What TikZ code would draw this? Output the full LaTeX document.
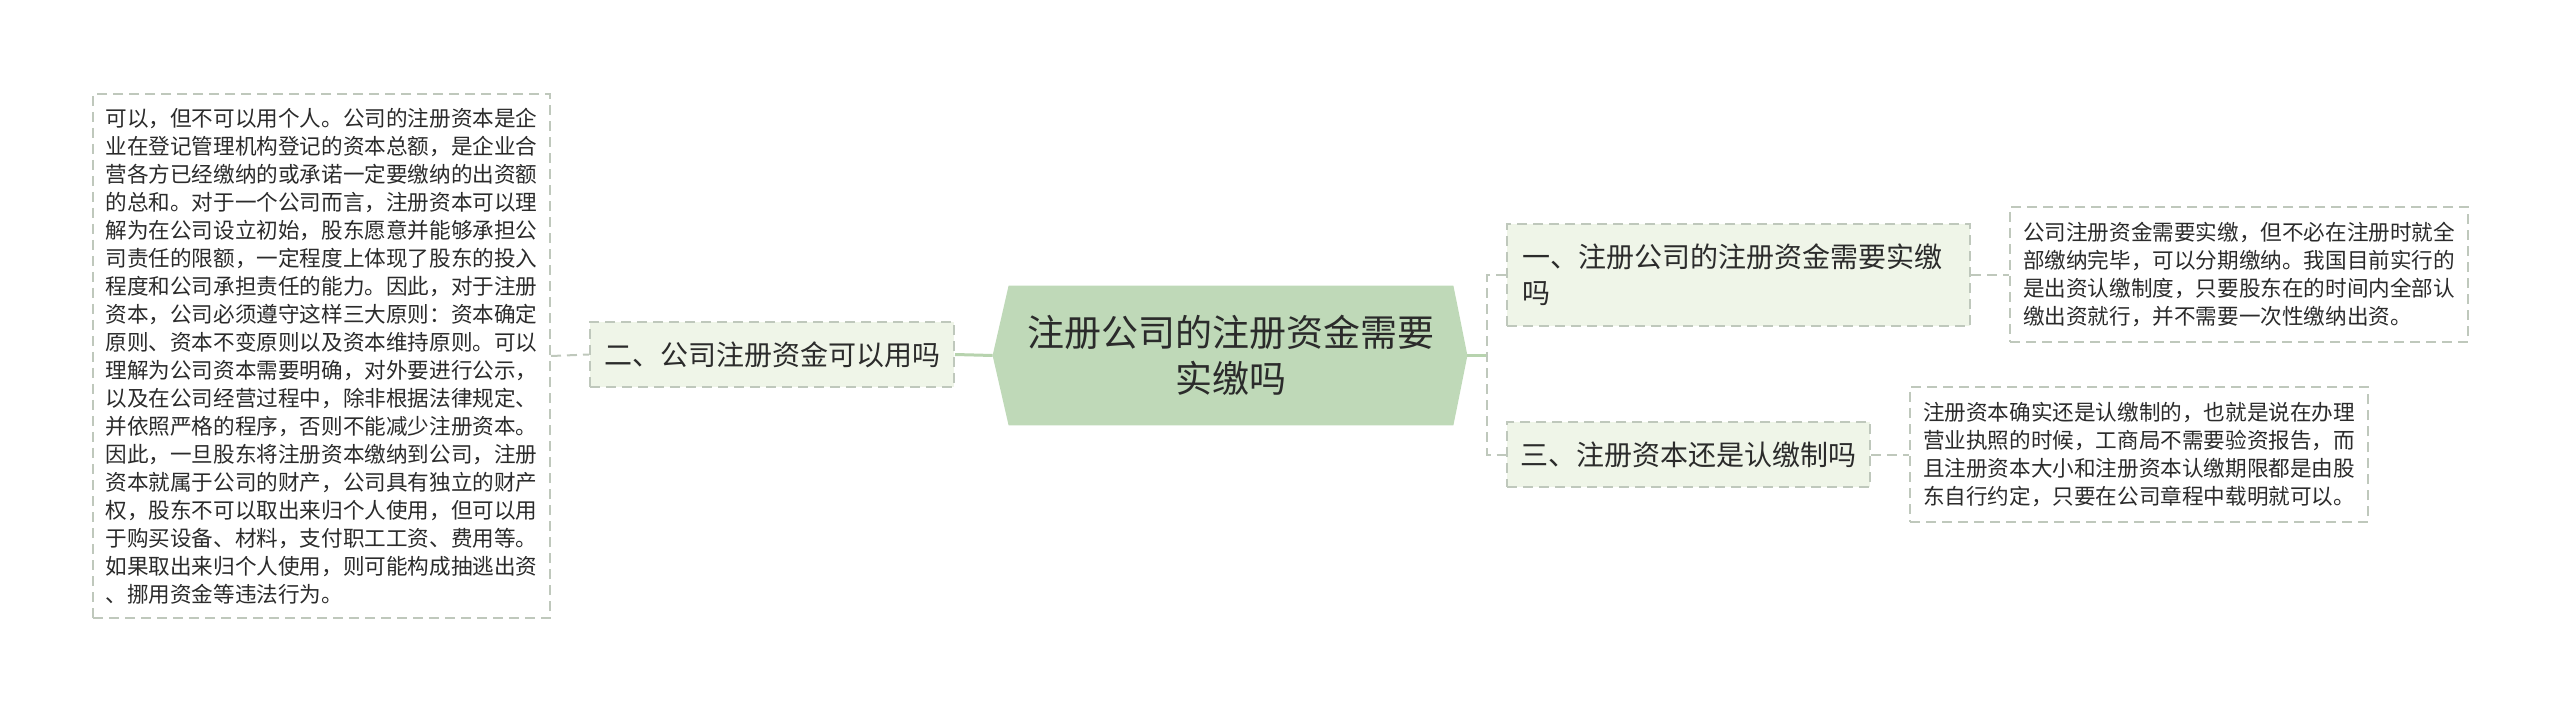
\documentclass[tikz,border=0pt]{standalone}
\usepackage{fontspec}
\setmainfont{Noto Sans CJK SC}
\usetikzlibrary{calc}
\definecolor{hexfill}{HTML}{BFD9B8}
\definecolor{subfill}{HTML}{EFF5E8}
\definecolor{dashc}{HTML}{BFC8BC}
\definecolor{linec}{HTML}{B7D3AE}
\definecolor{txt}{HTML}{2B2B2B}
\begin{document}
\begin{tikzpicture}[x=0.5pt,y=-0.5pt,
  dbox/.style={draw=dashc, line width=1pt, dash pattern=on 5pt off 3pt, rectangle, inner sep=0pt, text=txt},
  leaf/.style={dbox, fill=white, align=left, font=\fontsize{10.8}{14}\selectfont},
  sub/.style={dbox, fill=subfill, align=left, font=\fontsize{14}{18}\selectfont},
  conn/.style={draw=linec, line width=1.5pt},
  dconn/.style={draw=dashc, line width=1pt, dash pattern=on 5pt off 3pt}
]
\useasboundingbox (0,0) rectangle (2560,711);

% central topic
\node[minimum width=222pt, minimum height=69.5pt, inner sep=0pt] (c) at (1231,355.5) {};
\coordinate (cL) at ($(c.west)+(-16,0)$);
\coordinate (cR) at ($(c.east)+(14,0)$);
\fill[hexfill] (c.north west) -- (c.north east) -- (cR) -- (c.south east) -- (c.south west) -- (cL) -- cycle;
\node[text=txt, align=center, font=\fontsize{18.5}{23}\selectfont] (ct) at (c.center) {注册公司的注册资金需要\\实缴吗};

% left branch
\node[sub, minimum width=182pt, minimum height=32.5pt] (b2) at (772,354.5) {二、公司注册资金可以用吗};
\node[leaf, minimum width=228.5pt, minimum height=262pt] (t2) at (321.5,356) {可以，但不可以用个人。公司的注册资本是企\\业在登记管理机构登记的资本总额，是企业合\\营各方已经缴纳的或承诺一定要缴纳的出资额\\的总和。对于一个公司而言，注册资本可以理\\解为在公司设立初始，股东愿意并能够承担公\\司责任的限额，一定程度上体现了股东的投入\\程度和公司承担责任的能力。因此，对于注册\\资本，公司必须遵守这样三大原则：资本确定\\原则、资本不变原则以及资本维持原则。可以\\理解为公司资本需要明确，对外要进行公示，\\以及在公司经营过程中，除非根据法律规定、\\并依照严格的程序，否则不能减少注册资本。\\因此，一旦股东将注册资本缴纳到公司，注册\\资本就属于公司的财产，公司具有独立的财产\\权，股东不可以取出来归个人使用，但可以用\\于购买设备、材料，支付职工工资、费用等。\\如果取出来归个人使用，则可能构成抽逃出资\\、挪用资金等违法行为。};

% right branches
\node[sub, minimum width=231.5pt, minimum height=51pt] (b1) at (1738.5,275) {\parbox{216pt}{\raggedright 一、注册公司的注册资金需要实缴\\吗}};
\node[sub, minimum width=181.5pt, minimum height=32.5pt] (b3) at (1688.5,454.5) {三、注册资本还是认缴制吗};

\node[leaf, minimum width=229pt, minimum height=67.5pt] (t1) at (2239,274.5) {公司注册资金需要实缴，但不必在注册时就全\\部缴纳完毕，可以分期缴纳。我国目前实行的\\是出资认缴制度，只要股东在的时间内全部认\\缴出资就行，并不需要一次性缴纳出资。};
\node[leaf, minimum width=229pt, minimum height=67.5pt] (t3) at (2139,454.5) {注册资本确实还是认缴制的，也就是说在办理\\营业执照的时候，工商局不需要验资报告，而\\且注册资本大小和注册资本认缴期限都是由股\\东自行约定，只要在公司章程中载明就可以。};

% connectors
\coordinate (j) at (1487,355.5);
\draw[conn] (b2.east) -- (cL);
\draw[dconn] (t2.east) -- (b2.west);
\draw[conn] (cR) -- (j);
\draw[dconn] (b1.west) -| (j) |- (b3.west);
\draw[dconn] (b1.east) -- (t1.west |- b1.east);
\draw[dconn] (b3.east) -- (t3.west);
\end{tikzpicture}
\end{document}
